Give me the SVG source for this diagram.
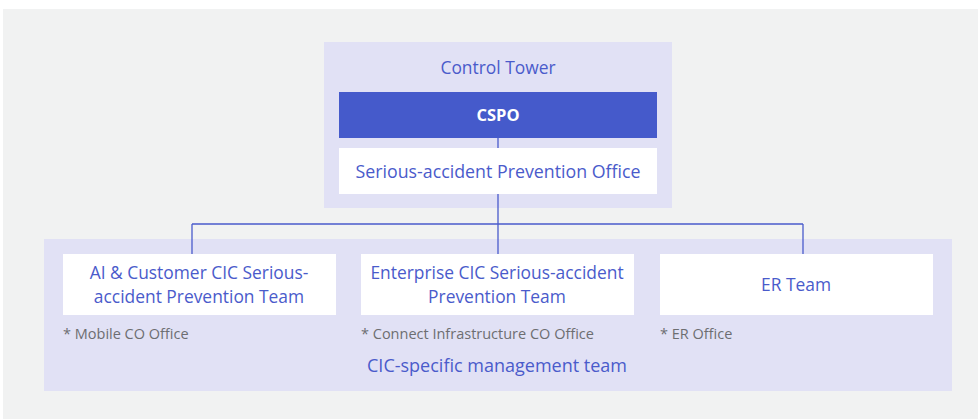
<svg xmlns="http://www.w3.org/2000/svg" width="978" height="419" viewBox="0 0 978 419">
<style>
text{font-family:"Open Sans","Noto Sans","Liberation Sans",sans-serif;text-anchor:middle}
.blue{fill:#4a5bcb;font-size:17.4px}
.note{fill:#6d6e71;font-size:14.5px;text-anchor:start}
.box{fill:#ffffff}
.panel{fill:#e1e1f5}
.conn{stroke:#4a5bcb;stroke-width:1.3;fill:none}
</style>
<rect x="3" y="9" width="975" height="410" fill="#f1f2f2"/>
<g id="control-tower">
<rect class="panel" x="324" y="42" width="348" height="166"/>
<text class="blue" x="498" y="74">Control Tower</text>
</g>
<g id="cic-team">
<rect class="panel" x="44" y="239" width="908" height="152"/>
<text class="blue" x="497" y="372" style="font-size:18px">CIC-specific management team</text>
</g>
<g id="connectors">
<path class="conn" d="M498 138V148M498 194V224M192 224H803M192 224V254M498 224V254M803 224V254"/>
</g>
<g id="cspo">
<rect x="339" y="92" width="318" height="46" fill="#455acb"/>
<text x="498" y="121" fill="#ffffff" style="font-size:16.5px;font-weight:bold">CSPO</text>
</g>
<g id="office">
<rect class="box" x="339" y="148" width="318" height="46"/>
<text class="blue" x="498" y="178" style="font-size:17.8px">Serious-accident Prevention Office</text>
</g>
<g id="ai-team">
<rect class="box" x="63" y="254" width="273" height="61"/>
<text class="blue" x="199" y="279">AI &amp; Customer CIC Serious-</text>
<text class="blue" x="199" y="303">accident Prevention Team</text>
<text class="note" x="63" y="339">* Mobile CO Office</text>
</g>
<g id="enterprise-team">
<rect class="box" x="361" y="254" width="273" height="61"/>
<text class="blue" x="497" y="279">Enterprise CIC Serious-accident</text>
<text class="blue" x="497" y="303">Prevention Team</text>
<text class="note" x="361" y="339">* Connect Infrastructure CO Office</text>
</g>
<g id="er-team">
<rect class="box" x="660" y="254" width="273" height="61"/>
<text class="blue" x="796" y="291">ER Team</text>
<text class="note" x="660" y="339">* ER Office</text>
</g>
</svg>
